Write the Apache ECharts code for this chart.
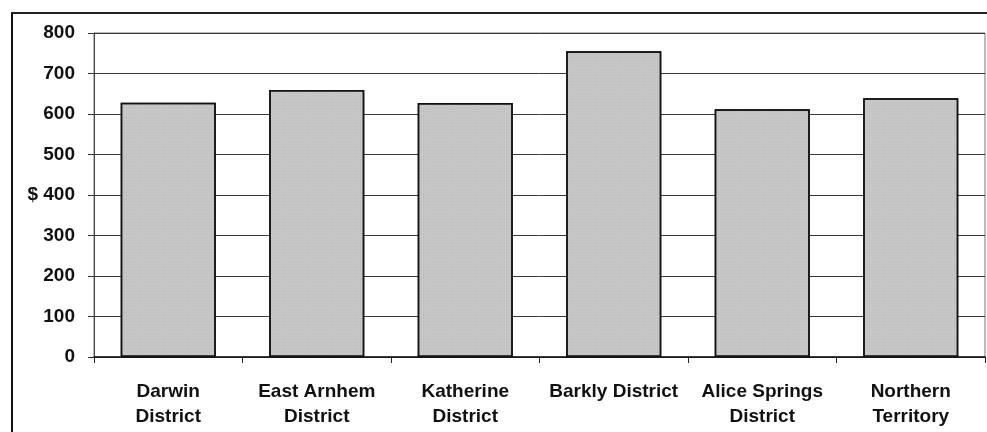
<!DOCTYPE html>
<html>
<head>
<meta charset="utf-8">
<script src="https://cdn.jsdelivr.net/npm/echarts@6/dist/echarts.min.js"></script>
<style>
  html, body { margin: 0; padding: 0; background: #fff; }
  #frame { position: absolute; left: 11px; top: 12px; width: 990px; height: 440px;
           border-left: 2px solid #111; border-top: 2px solid #222; }
  #chart { position: absolute; left: 0; top: 0; width: 987px; height: 432px; }
</style>
</head>
<body>
<div id="frame"></div>
<div id="chart"></div>
<script>
// Average weekly amounts by district, in dollars
const categories = [
  'Darwin\nDistrict',
  'East Arnhem\nDistrict',
  'Katherine\nDistrict',
  'Barkly District',
  'Alice Springs\nDistrict',
  'Northern\nTerritory'
];
const values = [628, 659, 627, 755, 612, 639];
const yTicks = [0, 100, 200, 300, 400, 500, 600, 700, 800];

const chart = echarts.init(document.getElementById('chart'), null, { renderer: 'canvas' });
const font = '"Liberation Sans", Arial, sans-serif';

chart.setOption({
  animation: false,
  backgroundColor: 'transparent',
  grid: {
    left: 94, right: 2, top: 33, bottom: 75,
    show: true, borderColor: '#777', borderWidth: 1, backgroundColor: 'transparent'
  },
  xAxis: {
    type: 'category',
    data: categories,
    axisLine: { lineStyle: { color: '#111', width: 1.5 } },
    axisTick: { show: true, length: 6, lineStyle: { color: '#222' } },
    axisLabel: {
      interval: 0, margin: 22, color: '#111', fontFamily: font,
      fontWeight: 'bold', fontSize: 19, lineHeight: 25, verticalAlign: 'top'
    }
  },
  yAxis: {
    type: 'value',
    min: yTicks[0], max: yTicks[yTicks.length - 1], interval: 100,
    axisLine: { show: true, lineStyle: { color: '#444', width: 1 } },
    axisTick: { show: true, length: 6, lineStyle: { color: '#333' } },
    splitLine: { show: true, lineStyle: { color: '#3a3a3a', width: 1 } },
    axisLabel: {
      margin: 19, color: '#111', fontFamily: font, fontWeight: 'bold', fontSize: 19,
      formatter: v => (v === 400 ? '$ ' + v : String(v))
    }
  },
  series: [{
    type: 'bar',
    data: values,
    barWidth: '64%',
    itemStyle: {
      color: '#c6c6c6',
      borderColor: '#111',
      borderWidth: 1.5,
      decal: {
        symbol: 'rect', symbolSize: 0.5, dashArrayX: [1, 2], dashArrayY: [1, 2],
        color: 'rgba(110,110,110,0.35)', rotation: 0
      }
    }
  }]
});
</script>
</body>
</html>
